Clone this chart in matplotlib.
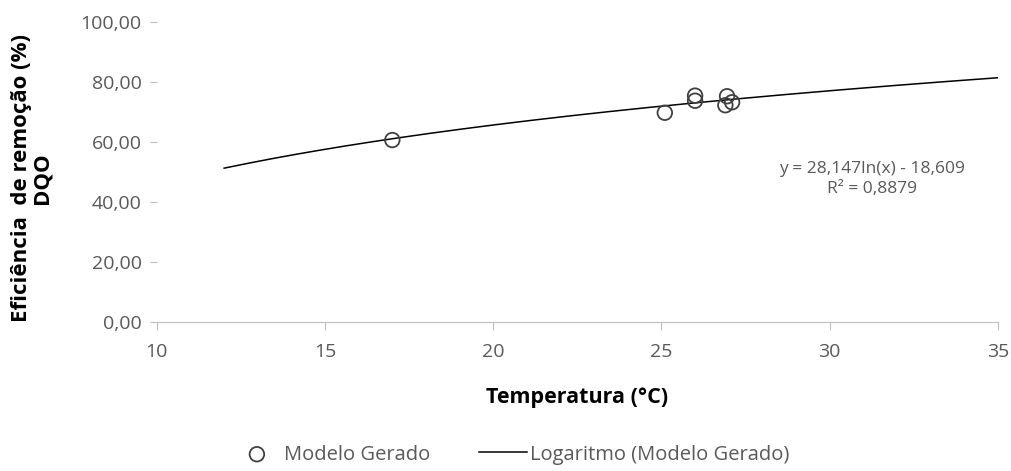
import numpy as np
import matplotlib
matplotlib.use("Agg")
import matplotlib.pyplot as plt
from matplotlib.ticker import FuncFormatter

# data
temperatura = [17.0, 25.1, 26.0, 26.0, 26.9, 26.95, 27.1]
eficiencia = [60.7, 69.8, 75.5, 73.8, 72.3, 75.3, 73.3]

# trendline coefficients as printed on the chart
coef_a = 28.147
coef_b = -18.609
r2_txt = "0,8879"
trend_x_min, trend_x_max = 12, 35

gray = "#595959"
plt.rcParams["font.family"] = ["Open Sans", "DejaVu Sans"]

fig = plt.figure(figsize=(10.12, 4.71), dpi=100)
ax = fig.add_axes([0.155, 0.316, 0.831, 0.637])

xt = np.linspace(trend_x_min, trend_x_max, 200)
ax.plot(xt, coef_a * np.log(xt) + coef_b, color="black", lw=1.1,
        label="Logaritmo (Modelo Gerado)", zorder=2)
ax.scatter(temperatura, eficiencia, s=110, facecolors="none", edgecolors="#404040",
           linewidths=1.3, label="Modelo Gerado", zorder=3)

ax.set_xlim(10, 35)
ax.set_ylim(0, 100)
ax.set_xticks(range(10, 36, 5))
ax.set_yticks(range(0, 101, 20))
ax.yaxis.set_major_formatter(FuncFormatter(lambda v, p: f"{v:.2f}".replace(".", ",")))

for s in ["top", "right", "left"]:
    ax.spines[s].set_visible(False)
ax.spines["bottom"].set_color("#bfbfbf")
ax.tick_params(axis="x", colors="#bfbfbf", labelcolor=gray, labelsize=14, length=6,
               direction="out", pad=9)
ax.tick_params(axis="y", colors="#bfbfbf", labelcolor=gray, labelsize=14, length=5, pad=6)

ax.set_xlabel("Temperatura (°C)", fontsize=15.5, fontweight="bold", color="black", labelpad=19)
ax.set_ylabel("Eficiência  de remoção (%)\nDQO", fontsize=16, fontweight="bold",
              color="black", linespacing=0.95)
ax.yaxis.set_label_coords(-0.124, 0.48)

ax.text(31.25, 47.7, f"y = {coef_a:.3f}ln(x) - {abs(coef_b):.3f}".replace(".", ",") + f"\nR² = {r2_txt}",
        ha="center", va="center", fontsize=12.5, color=gray, linespacing=1.35)

h, l = ax.get_legend_handles_labels()
fig.legend(h[::-1], l[::-1], loc="center", bbox_to_anchor=(0.505, 0.035), ncol=2,
           frameon=False, fontsize=14.5, labelcolor=gray, handlelength=2.4,
           handletextpad=0.15, columnspacing=2.4)

fig.savefig("out.png", dpi=100)
